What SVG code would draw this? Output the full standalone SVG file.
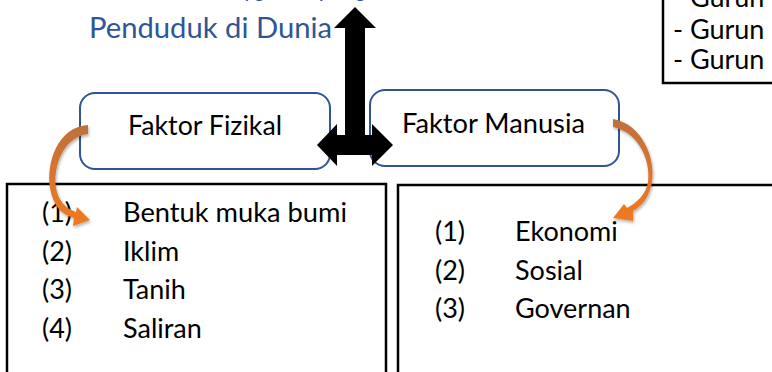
<svg xmlns="http://www.w3.org/2000/svg" width="772" height="372" viewBox="0 0 772 372">
<defs>
<style>
.t{font-family:"Lato","Noto Sans","Liberation Sans",sans-serif;fill:#000;font-size:27px}
.title{font-family:"Lato","Noto Sans","Liberation Sans",sans-serif;fill:#2F5597;font-size:29.5px}
.rbox{fill:#fff;stroke:#2F5597;stroke-width:2}
.bbox{fill:#fff;stroke:#000;stroke-width:2.5}
</style>
<linearGradient id="gl" x1="0" y1="0" x2="0" y2="1">
<stop offset="0" stop-color="#C0703C"/>
<stop offset="1" stop-color="#F07A20"/>
</linearGradient>
<filter id="sh" x="-30%" y="-30%" width="160%" height="160%">
<feDropShadow dx="1" dy="2" stdDeviation="1.5" flood-color="#000" flood-opacity="0.3"/>
</filter>
</defs>
<rect width="772" height="372" fill="#fff"/>

<g id="title">
<text class="title" x="243" y="-4" textLength="172" lengthAdjust="spacingAndGlyphs">yg mempengaruhi</text>
<text class="title" x="89" y="37.5" textLength="243" lengthAdjust="spacingAndGlyphs">Penduduk di Dunia</text>
</g>

<g id="gurun-box">
<rect class="bbox" x="663" y="-10" width="120" height="93" stroke-width="2"/>
<text class="t" x="673" y="7">- Gurun</text>
<text class="t" x="673" y="39">- Gurun</text>
<text class="t" x="673" y="69">- Gurun</text>
</g>

<g id="faktor-fizikal">
<rect class="rbox" x="80" y="93" width="250" height="76" rx="15"/>
<text class="t" x="128" y="135" textLength="154" lengthAdjust="spacingAndGlyphs">Faktor Fizikal</text>
</g>

<g id="faktor-manusia">
<rect class="rbox" x="370" y="90" width="249" height="76" rx="15"/>
<text class="t" x="402" y="133" textLength="183" lengthAdjust="spacingAndGlyphs">Faktor Manusia</text>
</g>

<g id="fizikal-list">
<rect class="bbox" x="7" y="184" width="379" height="200"/>
<text class="t" x="42" y="222">(1)</text>
<text class="t" x="123" y="222" textLength="224" lengthAdjust="spacingAndGlyphs">Bentuk muka bumi</text>
<text class="t" x="42" y="261">(2)</text>
<text class="t" x="123" y="261">Iklim</text>
<text class="t" x="42" y="299">(3)</text>
<text class="t" x="123" y="299">Tanih</text>
<text class="t" x="42" y="338">(4)</text>
<text class="t" x="123" y="338">Saliran</text>
</g>

<g id="manusia-list">
<rect class="bbox" x="398" y="185" width="390" height="200"/>
<text class="t" x="435" y="241">(1)</text>
<text class="t" x="515" y="241">Ekonomi</text>
<text class="t" x="435" y="280">(2)</text>
<text class="t" x="515" y="280">Sosial</text>
<text class="t" x="435" y="318">(3)</text>
<text class="t" x="515" y="318">Governan</text>
</g>

<g id="connectors">
<polygon fill="#000" points="355,7 376,28 365,28 365,135 372,135 372,124 393,145 372,166 372,155 337,155 337,166 317,145 337,124 337,135 345,135 345,28 334,28"/>
<path filter="url(#sh)" fill="url(#gl)" d="M 88 125 C 58 127, 46 162, 50 188 C 53 206, 62 215, 74 218 L 73 226 L 90 220 L 77 207 L 76 212 C 66 209, 58 200, 56 188 C 53 165, 64 137, 88 134 Z"/>
<path filter="url(#sh)" fill="url(#gl)" d="M 613 119 C 642 124, 656 158, 652 182 C 649 198, 642 206, 633 211 L 633 221 L 613 218 L 624 204 L 627 208 C 636 203, 646 195, 648 182 C 651 160, 638 132, 613 127 Z"/>
</g>
</svg>
